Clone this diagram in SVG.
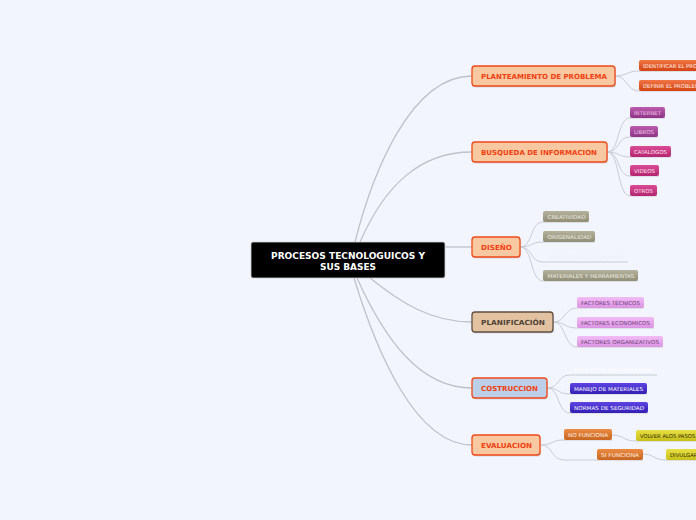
<svg xmlns="http://www.w3.org/2000/svg" width="696" height="520" viewBox="0 0 696 520">
<defs>
<linearGradient id="gRed" x1="0" y1="0" x2="0" y2="1"><stop offset="0" stop-color="#f27444"/><stop offset="1" stop-color="#d44412"/></linearGradient>
<linearGradient id="gPur" x1="0" y1="0" x2="0" y2="1"><stop offset="0" stop-color="#bc5cae"/><stop offset="1" stop-color="#8e3686"/></linearGradient>
<linearGradient id="gMag" x1="0" y1="0" x2="0" y2="1"><stop offset="0" stop-color="#dc4c96"/><stop offset="1" stop-color="#b42670"/></linearGradient>
<linearGradient id="gGray" x1="0" y1="0" x2="0" y2="1"><stop offset="0" stop-color="#b4b29c"/><stop offset="1" stop-color="#908e76"/></linearGradient>
<linearGradient id="gLil" x1="0" y1="0" x2="0" y2="1"><stop offset="0" stop-color="#f2bcf6"/><stop offset="1" stop-color="#da94e2"/></linearGradient>
<linearGradient id="gBlue" x1="0" y1="0" x2="0" y2="1"><stop offset="0" stop-color="#5e44e4"/><stop offset="1" stop-color="#3420b4"/></linearGradient>
<linearGradient id="gOra" x1="0" y1="0" x2="0" y2="1"><stop offset="0" stop-color="#ec8c44"/><stop offset="1" stop-color="#c66620"/></linearGradient>
<linearGradient id="gYel" x1="0" y1="0" x2="0" y2="1"><stop offset="0" stop-color="#e8e044"/><stop offset="1" stop-color="#c8c018"/></linearGradient>
</defs>
<style>
.conn{fill:none;stroke:#bfc2c8;stroke-width:1.3}
.sub{fill:none;stroke:#c9ccd3;stroke-width:1}
.br{stroke:#f04818;stroke-width:1.3}
.bt{font-family:"DejaVu Sans",Verdana,sans-serif;font-weight:bold;font-size:7px;fill:#f04010;text-anchor:middle}
.st{font-family:"DejaVu Sans",Verdana,sans-serif;font-size:5.3px}
.sh{fill:#9aa0aa;opacity:0.35}
</style>
<rect width="696" height="520" fill="#f2f5fd"/>

<g id="connectors">
<path class="conn" d="M355,242 C372,175 410,76 472,76"/>
<path class="conn" d="M360,242 C385,185 420,152 472,152"/>
<path class="conn" d="M445,247 L472,247"/>
<path class="conn" d="M370,278 C400,302 430,322 472,322"/>
<path class="conn" d="M357,278 C385,340 420,388 472,388"/>
<path class="conn" d="M354,278 C376,350 415,445 472,445"/>
<!-- planteamiento -->
<path class="sub" d="M615,76 C627,76 627,71 639,71 L696,71"/>
<path class="sub" d="M615,76 C627,76 627,91 639,91 L696,91"/>
<!-- busqueda -->
<path class="sub" d="M607,152 C620,152 617,118 630,118 L665,118"/>
<path class="sub" d="M607,152 C620,152 617,137 630,137 L658,137"/>
<path class="sub" d="M607,152 C620,152 617,157 630,157 L671,157"/>
<path class="sub" d="M607,152 C620,152 617,176 630,176 L659,176"/>
<path class="sub" d="M607,152 C620,152 617,196 630,196 L657,196"/>
<!-- diseno -->
<path class="sub" d="M520,247 C533,247 530,222 543,222 L589,222"/>
<path class="sub" d="M520,247 C533,247 530,242 543,242 L595,242"/>
<path class="sub" d="M520,247 C533,247 530,262 543,262 L628,262"/>
<path class="sub" d="M520,247 C533,247 530,281 543,281 L638,281"/>
<!-- planificacion -->
<path class="sub" d="M553,322 C566,322 564,308 577,308 L644,308"/>
<path class="sub" d="M553,322 C566,322 564,328 577,328 L654,328"/>
<path class="sub" d="M553,322 C566,322 564,347 577,347 L663,347"/>
<!-- costruccion -->
<path class="sub" d="M547,388 C560,388 557,375 570,375 L657,375"/>
<path class="sub" d="M547,388 C560,388 557,394 570,394 L647,394"/>
<path class="sub" d="M547,388 C560,388 557,413 570,413 L648,413"/>
<!-- evaluacion -->
<path class="sub" d="M541,445 C553,445 551,440 564,440 L612,440"/>
<path class="sub" d="M541,445 C553,445 551,460 564,460 L643,460"/>
<path class="sub" d="M612,435 C624,435 623,441 636,441 L696,441"/>
<path class="sub" d="M643,454 C654,454 653,460 666,460 L696,460"/>
</g>

<g id="root">
<rect x="251" y="242" width="194" height="36" rx="2" fill="#000" stroke="#d0d0d0" stroke-width="0.8"/>
<text x="348" y="258.5" font-family="DejaVu Sans,Verdana,sans-serif" font-weight="bold" font-size="8.3" fill="#fff" text-anchor="middle" textLength="154" lengthAdjust="spacingAndGlyphs">PROCESOS TECNOLOGUICOS Y</text>
<text x="348" y="269.5" font-family="DejaVu Sans,Verdana,sans-serif" font-weight="bold" font-size="8.3" fill="#fff" text-anchor="middle" textLength="56" lengthAdjust="spacingAndGlyphs">SUS BASES</text>
</g>

<g id="n-planteamiento">
<rect class="sh" x="473" y="67.5" width="143" height="20" rx="3"/>
<rect class="br" x="472" y="66" width="143" height="20" rx="3" fill="#f8c8a0"/>
<text class="bt" x="544" y="78.6" textLength="126" lengthAdjust="spacingAndGlyphs">PLANTEAMIENTO DE PROBLEMA</text>
</g>
<g id="n-busqueda">
<rect class="sh" x="473" y="143.5" width="135" height="20" rx="3"/>
<rect class="br" x="472" y="142" width="135" height="20" rx="3" fill="#f8c8a0"/>
<text class="bt" x="539" y="154.6" textLength="116" lengthAdjust="spacingAndGlyphs">BUSQUEDA DE INFORMACION</text>
</g>
<g id="n-diseno">
<rect class="sh" x="473" y="238.5" width="48" height="20" rx="3"/>
<rect class="br" x="472" y="237" width="48" height="20" rx="3" fill="#f8c8a0"/>
<text class="bt" x="496.5" y="249.6" textLength="31" lengthAdjust="spacingAndGlyphs">DISEÑO</text>
</g>
<g id="n-planificacion">
<rect class="sh" x="473" y="313.5" width="81" height="20" rx="3"/>
<rect x="472" y="312" width="81" height="20" rx="3" fill="#e2c2a0" stroke="#5e5040" stroke-width="1.3"/>
<text class="bt" x="513" y="324.6" textLength="64" lengthAdjust="spacingAndGlyphs" style="fill:#4e4236">PLANIFICACIÓN</text>
</g>
<g id="n-costruccion">
<rect class="sh" x="473" y="379.5" width="75" height="20" rx="3"/>
<rect class="br" x="472" y="378" width="75" height="20" rx="3" fill="#bccfe8"/>
<text class="bt" x="509.5" y="390.6" textLength="57" lengthAdjust="spacingAndGlyphs">COSTRUCCION</text>
</g>
<g id="n-evaluacion">
<rect class="sh" x="473" y="436.5" width="68" height="20" rx="3"/>
<rect class="br" x="472" y="435" width="68" height="20" rx="3" fill="#f8c8a0"/>
<text class="bt" x="506.5" y="447.6" textLength="51" lengthAdjust="spacingAndGlyphs">EVALUACION</text>
</g>

<g id="n-identificar">
<rect x="639" y="60" width="80" height="11" rx="2" fill="url(#gRed)"/>
<text class="st" x="643" y="67.8" fill="#fff2ea">IDENTIFICAR EL PROBLEMA</text>
</g>
<g id="n-definir">
<rect x="639" y="80" width="80" height="11" rx="2" fill="url(#gRed)"/>
<text class="st" x="643" y="87.8" fill="#fff2ea">DEFINIR EL PROBLEMA</text>
</g>

<g id="n-internet">
<rect x="630" y="107" width="35" height="11" rx="2" fill="url(#gPur)"/>
<text class="st" x="634" y="114.8" fill="#f0c4ea" textLength="27" lengthAdjust="spacingAndGlyphs">INTERNET</text>
</g>
<g id="n-libros">
<rect x="630" y="126" width="28" height="11" rx="2" fill="url(#gPur)"/>
<text class="st" x="634" y="133.8" fill="#f0c4ea" textLength="20" lengthAdjust="spacingAndGlyphs">LIBROS</text>
</g>
<g id="n-catalogos">
<rect x="630" y="146" width="41" height="11" rx="2" fill="url(#gMag)"/>
<text class="st" x="634" y="153.8" fill="#fbe4f2" textLength="33" lengthAdjust="spacingAndGlyphs">CATALOGOS</text>
</g>
<g id="n-videos">
<rect x="630" y="165" width="29" height="11" rx="2" fill="url(#gMag)"/>
<text class="st" x="634" y="172.8" fill="#fbe4f2" textLength="21" lengthAdjust="spacingAndGlyphs">VIDEOS</text>
</g>
<g id="n-otros">
<rect x="630" y="185" width="27" height="11" rx="2" fill="url(#gMag)"/>
<text class="st" x="634" y="192.8" fill="#fbe4f2" textLength="19" lengthAdjust="spacingAndGlyphs">OTROS</text>
</g>

<g id="n-creatividad">
<rect x="543" y="211" width="46" height="11" rx="2" fill="url(#gGray)"/>
<text class="st" x="547.5" y="218.8" fill="#ecebe2" textLength="38" lengthAdjust="spacingAndGlyphs">CREATIVIDAD</text>
</g>
<g id="n-origenalidad">
<rect x="543" y="231" width="52" height="11" rx="2" fill="url(#gGray)"/>
<text class="st" x="547.5" y="238.8" fill="#ecebe2" textLength="44" lengthAdjust="spacingAndGlyphs">ORIGENALIDAD</text>
</g>
<g id="n-boseto">
<text class="st" x="548" y="258.8" fill="#eef0f6" textLength="76" lengthAdjust="spacingAndGlyphs">BOSETO-CROQUIS-PLANOS</text>
</g>
<g id="n-materiales-herr">
<rect x="543" y="270" width="95" height="11" rx="2" fill="url(#gGray)"/>
<text class="st" x="547.5" y="277.8" fill="#ecebe2" textLength="87" lengthAdjust="spacingAndGlyphs">MATERIALES Y HERRAMIENTAS</text>
</g>

<g id="n-tecnicos">
<rect x="577" y="297" width="67" height="11" rx="2" fill="url(#gLil)"/>
<text class="st" x="581" y="304.8" fill="#6e3c78" textLength="59" lengthAdjust="spacingAndGlyphs">FACTORES TÉCNICOS</text>
</g>
<g id="n-economicos">
<rect x="577" y="317" width="77" height="11" rx="2" fill="url(#gLil)"/>
<text class="st" x="581" y="324.8" fill="#6e3c78" textLength="69" lengthAdjust="spacingAndGlyphs">FACTORES ECONOMICOS</text>
</g>
<g id="n-organizativos">
<rect x="577" y="336" width="86" height="11" rx="2" fill="url(#gLil)"/>
<text class="st" x="581" y="343.8" fill="#6e3c78" textLength="78" lengthAdjust="spacingAndGlyphs">FACTORES ORGANIZATIVOS</text>
</g>

<g id="n-manejo-herr">
<text class="st" x="574" y="371.8" fill="#ffffff" textLength="79" lengthAdjust="spacingAndGlyphs">MANEJO DE HERRAMIENTAS</text>
</g>
<g id="n-manejo-mat">
<rect x="570" y="383" width="77" height="11" rx="2" fill="url(#gBlue)"/>
<text class="st" x="574" y="390.8" fill="#ffffff" textLength="69" lengthAdjust="spacingAndGlyphs">MANEJO DE MATERIALES</text>
</g>
<g id="n-normas">
<rect x="570" y="402" width="78" height="11" rx="2" fill="url(#gBlue)"/>
<text class="st" x="574" y="409.8" fill="#ffffff" textLength="70" lengthAdjust="spacingAndGlyphs">NORMAS DE SEGURIDAD</text>
</g>

<g id="n-no-funciona">
<rect x="564" y="429" width="48" height="11" rx="2" fill="url(#gOra)"/>
<text class="st" x="568" y="436.8" fill="#fff0e2" textLength="40" lengthAdjust="spacingAndGlyphs">NO FUNCIONA</text>
</g>
<g id="n-si-funciona">
<rect x="597" y="449" width="46" height="11" rx="2" fill="url(#gOra)"/>
<text class="st" x="601" y="456.8" fill="#fff0e2" textLength="38" lengthAdjust="spacingAndGlyphs">SI FUNCIONA</text>
</g>
<g id="n-volver">
<rect x="636" y="430" width="70" height="11" rx="2" fill="url(#gYel)"/>
<text class="st" x="640" y="437.8" fill="#2e2c0c">VOLVER ALOS PASOS</text>
</g>
<g id="n-divulgar">
<rect x="666" y="449" width="40" height="11" rx="2" fill="url(#gYel)"/>
<text class="st" x="670" y="456.8" fill="#2e2c0c">DIVULGAR</text>
</g>
</svg>
